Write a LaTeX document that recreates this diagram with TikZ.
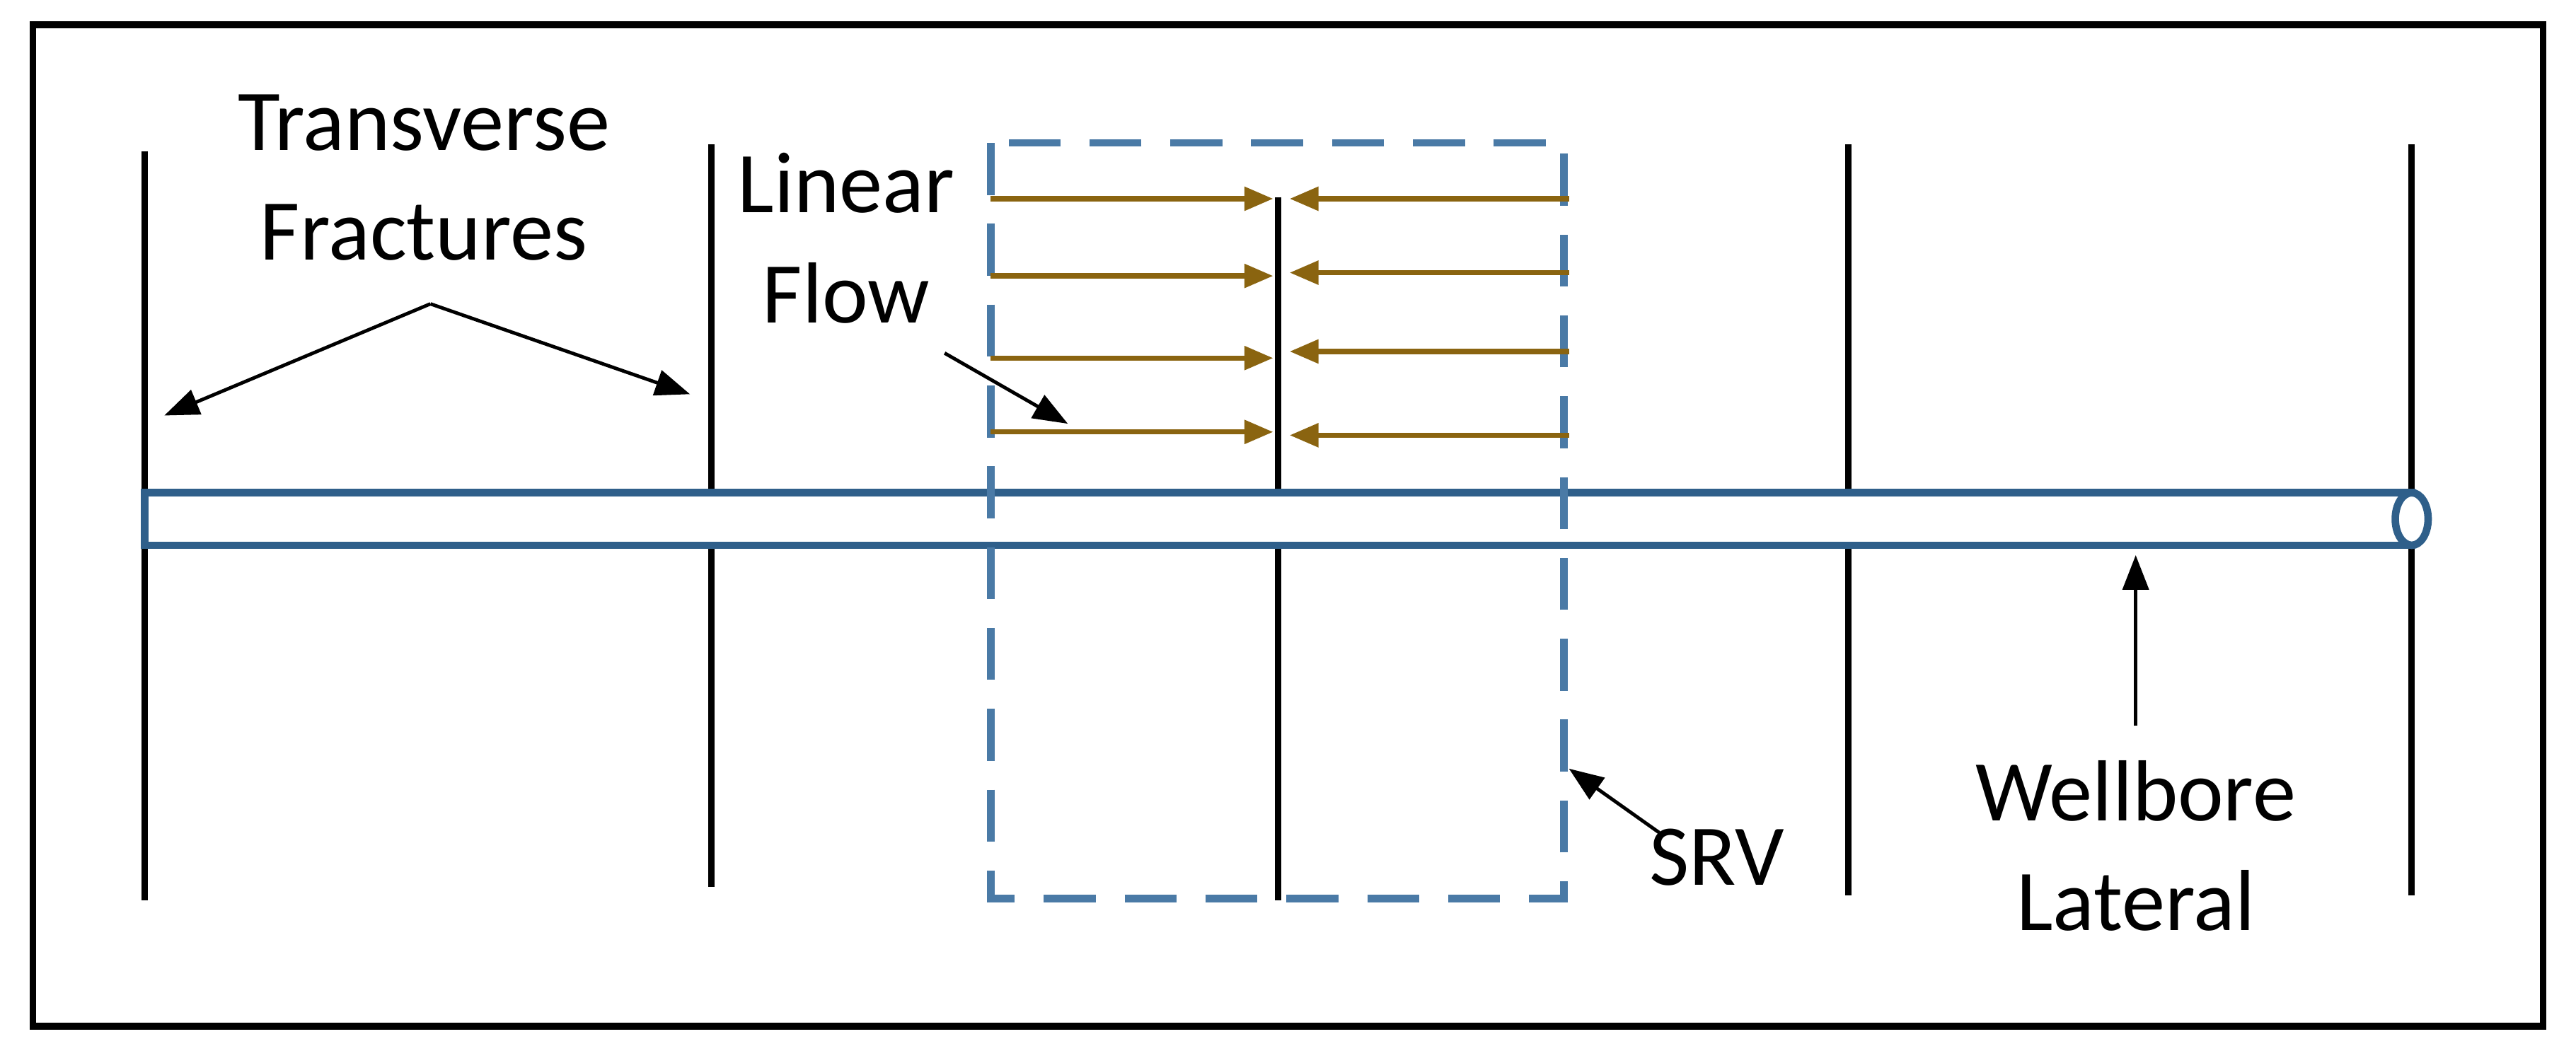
\documentclass[tikz,border=0pt]{standalone}
\usepackage{fontspec}
\setmainfont{Carlito}
\usetikzlibrary{arrows.meta}
\definecolor{wb}{HTML}{2F5F8A}
\definecolor{srv}{HTML}{4A7AA6}
\definecolor{fl}{HTML}{8A6410}
\begin{document}
\begin{tikzpicture}[x=0.01cm,y=-0.01cm,
  frac/.style={line width=1.1pt,black},
  flow/.style={fl,line width=0.9pt,-{Triangle[length=5pt,width=4pt]}},
  lab/.style={-{Triangle[length=6pt,width=4.5pt]},line width=0.6pt},
  txt/.style={font=\fontsize{15pt}{19pt}\selectfont,align=center}]
\useasboundingbox (0,0) rectangle (1568,647);
\draw[line width=1.2pt] (20,15) rectangle (1548,625);
% fractures
\foreach \x/\a/\b in {88/92/548,433/88/540,778/120/548,1125/88/545,1468/88/545}
  \draw[frac] (\x,\a) -- (\x,\b);
% wellbore
\draw[wb,line width=1.3pt,fill=white] (88,300) rectangle (1468,332);
\draw[wb,line width=1.3pt,fill=white] (1468,316) ellipse [x radius=10,y radius=16];
% SRV
\draw[srv,line width=1.3pt,dash pattern=on 9pt off 5pt] (603,87) rectangle (952,547);
% flow arrows
\foreach \y in {121,168,218,263} \draw[flow] (603,\y) -- (775,\y);
\foreach \y in {121,166,214,265} \draw[flow] (955,\y) -- (785,\y);
% labels
\node[txt] (tf) at (258,108) {Transverse\\Fractures};
\coordinate (tfa) at (262,185);
\draw[lab] (tfa) -- (100,253);
\draw[lab] (tfa) -- (420,240);
\node[txt] (lf) at (515,145) {Linear\\Flow};
\coordinate (lfa) at (575,215);
\draw[lab] (lfa) -- (650,258);
\node[txt] (srvt) at (1045,522) {SRV};
\coordinate (sa) at (1010,507);
\draw[lab] (sa) -- (955,468);
\node[txt] (wl) at (1300,515) {Wellbore\\Lateral};
\coordinate (wa) at (1300,442);
\draw[lab] (wa) -- (1300,338);
\end{tikzpicture}
\end{document}
